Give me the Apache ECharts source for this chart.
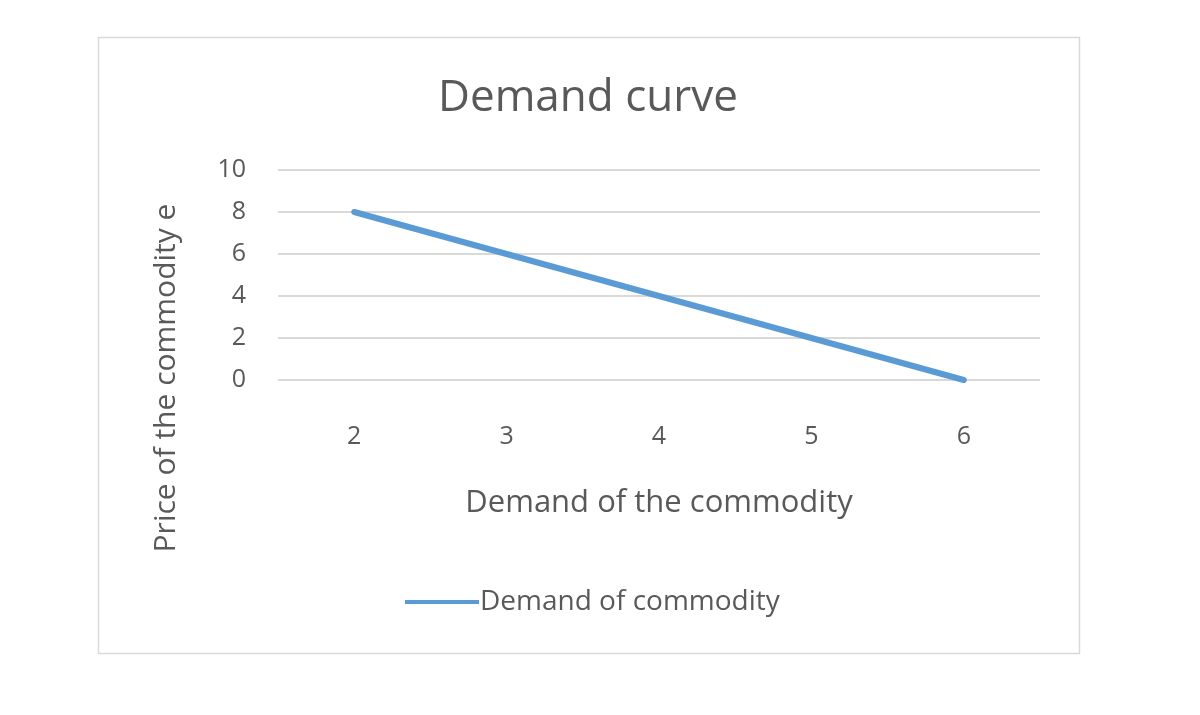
<!DOCTYPE html>
<html>
<head>
<meta charset="utf-8">
<script src="https://cdn.jsdelivr.net/npm/echarts@6/dist/echarts.min.js"></script>
<style>html,body{margin:0;padding:0;background:#fff}#c{width:1200px;height:715px}</style>
</head>
<body>
<div id="c"></div>
<script>
const categories = ['2', '3', '4', '5', '6'];
const demandValues = [8, 6, 4, 2, 0];
const seriesName = 'Demand of commodity';

const FONT = '"Open Sans", sans-serif';
const chart = echarts.init(document.getElementById('c'));
chart.setOption({
  backgroundColor: '#fff',
  animation: false,
  title: {
    text: 'Demand curve',
    left: 433, top: 71,
    textStyle: { fontFamily: FONT, fontSize: 44, fontWeight: 'normal', color: '#595959' }
  },
  graphic: [
    { type: 'rect', shape: { x: 98.5, y: 37.5, width: 981, height: 616 },
      style: { fill: 'none', stroke: '#d9d9d9', lineWidth: 1.5 }, z: -1 },
    { type: 'text', x: 166, y: 378, rotation: Math.PI / 2,
      style: { text: 'Price of the commodity e', fontFamily: FONT, fontSize: 30, fill: '#595959',
               textAlign: 'center', textVerticalAlign: 'middle' } }
  ],
  legend: {
    data: [seriesName], left: 400, top: 583,
    icon: 'rect', itemWidth: 74, itemHeight: 4, itemGap: 4,
    textStyle: { fontFamily: FONT, fontSize: 28, color: '#595959', padding: [0, 0, 0, -4] }
  },
  grid: { left: 278, right: 160, top: 170, bottom: 335, containLabel: false },
  xAxis: {
    type: 'category', data: categories, boundaryGap: true,
    name: 'Demand of the commodity', nameLocation: 'middle', nameGap: 108,
    nameTextStyle: { fontFamily: FONT, fontSize: 31, color: '#595959' },
    axisLine: { show: false }, axisTick: { show: false },
    axisLabel: { fontFamily: FONT, fontSize: 25, color: '#595959', margin: 44 }
  },
  yAxis: {
    type: 'value', min: 0, max: 10, interval: 2,
    axisLine: { show: false }, axisTick: { show: false },
    axisLabel: { fontFamily: FONT, fontSize: 25, color: '#595959', margin: 32 },
    splitLine: { lineStyle: { color: '#d9d9d9', width: 2 } }
  },
  series: [{
    name: seriesName, type: 'line', data: demandValues,
    symbol: 'none', lineStyle: { color: '#5b9bd5', width: 6, cap: 'round' },
    itemStyle: { color: '#5b9bd5' }
  }]
});
</script>
</body>
</html>
